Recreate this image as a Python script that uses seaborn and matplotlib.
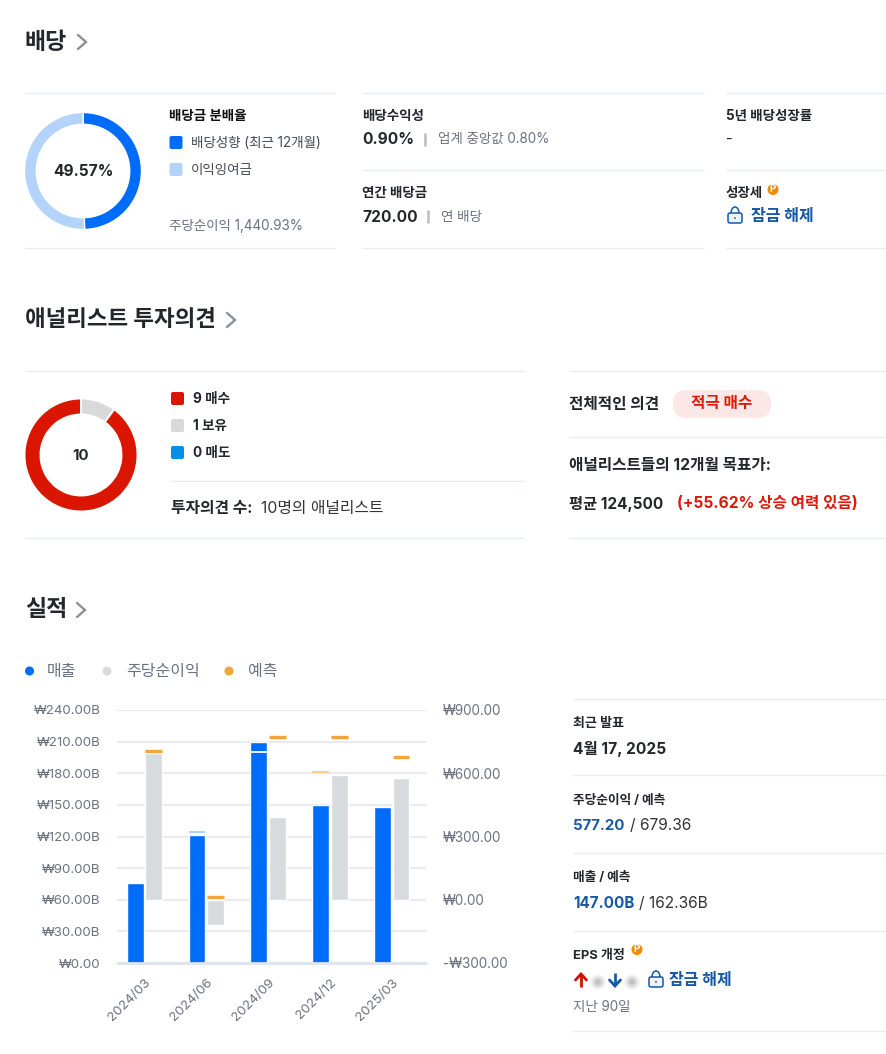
import numpy as np
import pandas as pd
import seaborn as sns
import matplotlib
matplotlib.use("Agg")
import matplotlib.pyplot as plt
from matplotlib.patches import FancyBboxPatch, Circle, Arc

# ---- data ----
periods = ["2024/03", "2024/06", "2024/09", "2024/12", "2025/03"]
revenue = [76.2, 121.7, 209.3, 149.6, 147.6]
revenue_forecast = [np.nan, 124.3, 199.8, 181.5, np.nan]
eps = [694, -118, 394, 592, 577.2]
eps_forecast = [707, 13, 770, 770, 679.36]
left_ticks = [0, 30, 60, 90, 120, 150, 180, 210, 240]
left_labels = ["₩0.00", "₩30.00B", "₩60.00B", "₩90.00B", "₩120.00B", "₩150.00B", "₩180.00B", "₩210.00B", "₩240.00B"]
right_ticks = [-300, 0, 300, 600, 900]
right_labels = ["-₩300.00", "₩0.00", "₩300.00", "₩600.00", "₩900.00"]
series_names = ["매출", "주당순이익"]
payout = [49.57, 50.43]
analyst_counts = [1, 9]

W, H = 886, 1054
BLUE = "#006cfa"; LBLUE = "#b3d3fb"; GREY = "#d8dbde"; ORANGE = "#f2a53a"
RED = "#db1600"; LINK = "#1559a6"; DARK = "#23262b"; MID = "#6b7280"; RULE = "#e6ebf2"

sns.set_theme(style="white")
plt.rcParams["font.family"] = ["Inter", "Noto Sans CJK KR", "DejaVu Sans"]
plt.rcParams["axes.unicode_minus"] = False

fig = plt.figure(figsize=(W / 100, H / 100), dpi=100, facecolor="white")
ov = fig.add_axes([0, 0, 1, 1], zorder=0)
ov.set_xlim(0, W); ov.set_ylim(H, 0); ov.axis("off")


def T(x, y, s, px=13, color=DARK, bold=False, ha="left"):
    ov.text(x, y + 1.8, s, fontsize=px * 0.72, color=color, ha=ha, va="center",
            fontweight="bold" if bold else "normal")


def rule(y, x0, x1):
    ov.plot([x0, x1], [y, y], color=RULE, lw=1, solid_capstyle="butt")


def chevron(x, y):
    ov.plot([x, x + 8, x], [y - 7, y, y + 7], color="#8b9099", lw=1.7, solid_joinstyle="miter")


def square(x, y, c, s=13):
    ov.add_patch(FancyBboxPatch((x + 2, y + 2), s - 4, s - 4, boxstyle="round,pad=2,rounding_size=2",
                                fc=c, ec="none"))


def vsep(x, y0, y1):
    ov.plot([x, x], [y0, y1], color="#bcbfc4", lw=1.9, solid_capstyle="butt")


def lock(x, y):
    ov.add_patch(FancyBboxPatch((x + 2, y - 2), 12, 8, boxstyle="round,pad=1,rounding_size=2",
                                fc="#eef4fb", ec=LINK, lw=1.1))
    ov.add_patch(Arc((x + 8, y - 3), 8, 12, theta1=180, theta2=360, color=LINK, lw=1.1))
    ov.add_patch(Circle((x + 8, y + 2), 0.9, fc=LINK, ec="none"))


def coin(x, y):
    ov.add_patch(Circle((x, y), 5.5, fc="#f58a07", ec="none"))
    ov.text(x, y - 0.3, "P", fontsize=7, color="white", fontweight="bold", ha="center", va="center")


def blob(x, y):
    for r, a in zip([8, 6.5, 5, 3.5, 2], [0.07, 0.1, 0.14, 0.18, 0.2]):
        ov.add_patch(Circle((x, y), r, fc="#8a8a8a", ec="none", alpha=a))


def arrow(x, y_tail, y_head, c):
    d = 6 if y_tail > y_head else -6
    ov.plot([x, x], [y_tail, y_head + 1 * np.sign(d)], color=c, lw=2, solid_capstyle="butt")
    ov.plot([x - 5.5, x, x + 5.5], [y_head + d, y_head, y_head + d], color=c, lw=2, solid_joinstyle="miter")


def donut(cx, cy, r, inner, vals, cols, edge=None):
    a = fig.add_axes([(cx - r) / W, 1 - (cy + r) / H, 2 * r / W, 2 * r / H], zorder=1)
    wp = dict(width=(r - inner) / r)
    if edge:
        wp.update(edgecolor=edge, linewidth=1.4)
    a.pie(vals, colors=cols, startangle=90, counterclock=False, radius=1, wedgeprops=wp)
    a.set_xlim(-1, 1); a.set_ylim(-1, 1)
    return a


# ---- section: dividends ----
T(25, 41, "배당", 23, DARK, True); chevron(78, 42)
for x0, x1 in [(25, 335), (362, 704), (726, 886)]:
    rule(93, x0, x1); rule(248, x0, x1)
for x0, x1 in [(362, 704), (726, 886)]:
    rule(170, x0, x1)
donut(83, 171, 58.5, 46.7, payout, [BLUE, LBLUE])
T(83, 170, "49.57%", 15.4, DARK, True, ha="center")
T(169, 114, "배당금 분배율", 13.5, "#111", True)
square(169.5, 136, BLUE); T(191, 141, "배당성향 (최근 12개월)", 13.5, "#444a55")
square(169.5, 163, LBLUE); T(191, 168, "이익잉여금", 13.5, "#444a55")
T(169, 224, "주당순이익 1,440.93%", 13.5, MID)
T(362, 114, "배당수익성", 13.5, DARK, True)
T(362, 138, "0.90%", 15.5, DARK, True); vsep(425.5, 133, 146); T(438, 137, "업계 중앙값 0.80%", 13.5, MID)
T(362, 191, "연간 배당금", 13.5, DARK, True)
T(362, 216, "720.00", 15.5, DARK, True); vsep(428.5, 210, 223); T(441, 215, "연 배당", 13.5, MID)
T(726, 114, "5년 배당성장률", 13.5, DARK, True)
T(726, 138, "-", 15, DARK)
T(726, 191, "성장세", 13.5, DARK, True); coin(773, 189.5)
lock(727, 216); T(751, 215, "잠금 해제", 16, LINK, True)

# ---- section: analysts ----
T(25, 318, "애널리스트 투자의견", 22.4, DARK, True); chevron(227, 320)
rule(371, 25, 524); rule(538, 25, 524); rule(480.5, 171, 524)
for y in (371, 437, 538):
    rule(y, 569, 886)
donut(81, 455, 56.5, 40.5, analyst_counts, ["#d9d9d9", RED], edge="white")
T(81, 454, "10", 15, DARK, True, ha="center")
square(171, 392, RED); T(193, 397, "9 매수", 13.6, DARK, True)
square(171, 419, "#d9d9d9"); T(193, 424, "1 보유", 13.6, DARK, True)
square(171, 446, "#068fe6"); T(193, 451, "0 매도", 13.6, DARK, True)
T(171, 507, "투자의견 수:", 15.8, DARK, True); T(261, 507, "10명의 애널리스트", 15.8, "#333")
T(569, 403, "전체적인 의견", 15.7, DARK, True)
ov.add_patch(FancyBboxPatch((687, 404), 70, 0.01, boxstyle="round,pad=14,rounding_size=14", fc="#fbe7e6", ec="none"))
T(722, 402, "적극 매수", 15.7, "#dd1a0a", True, ha="center")
T(569, 464, "애널리스트들의 12개월 목표가:", 15.7, DARK, True)
T(569, 502, "평균 124,500", 15.3, DARK, True)
T(677, 502, "(+55.62% 상승 여력 있음)", 15.6, "#dd1a0a", True)

# ---- section: earnings ----
T(25, 608, "실적", 23, DARK, True); chevron(77, 610)
for x, c, tx, s in [(29.5, BLUE, 47, series_names[0]), (107, GREY, 126, series_names[1]), (229, ORANGE, 248, "예측")]:
    ov.add_patch(Circle((x, 671), 4.5, fc=c, ec="none"))
    T(tx, 669.5, s, 16, MID)

for y in (698.5, 775, 853, 930.5, 1031):
    rule(y, 573, 886)
T(573, 722, "최근 발표", 13, DARK, True)
T(573, 747, "4월 17, 2025", 15.5, DARK, True)
T(573, 799, "주당순이익 / 예측", 12.7, DARK, True)
T(573, 824, "577.20", 15, LINK, True); T(630, 824, "/ 679.36", 15.5, "#333")
T(573, 876, "매출 / 예측", 12.7, DARK, True)
T(573, 902, "147.00B", 15.2, LINK, True); T(639, 902, "/ 162.36B", 15.5, "#333")
T(573, 954, "EPS 개정", 13, DARK, True); coin(637, 949.5)
arrow(581, 987, 974, "#d01202")
blob(598, 982)
arrow(615, 973, 986, LINK)
blob(632, 982)
lock(648, 980); T(669, 979, "잠금 해제", 16, LINK, True)
T(573, 1005, "지난 90일", 13.5, MID)

# ---- chart ----
x0, x1, y0, y1 = 117, 426, 710, 963
XLIM = (-0.445, 4.555)
ax = fig.add_axes([x0 / W, 1 - y1 / H, (x1 - x0) / W, (y1 - y0) / H], zorder=2)
ax.patch.set_alpha(0)
palette = {series_names[0]: BLUE, series_names[1]: GREY}
nan5 = [np.nan] * 5
df_rev = pd.DataFrame({"period": periods * 2, "value": revenue + nan5,
                       "series": [series_names[0]] * 5 + [series_names[1]] * 5})
df_eps = pd.DataFrame({"period": periods * 2, "value": nan5 + eps,
                       "series": [series_names[0]] * 5 + [series_names[1]] * 5})
bar_kw = dict(x="period", y="value", hue="series", hue_order=series_names, palette=palette,
              order=periods, width=0.6, gap=0.1, legend=False, edgecolor="white", linewidth=1,
              saturation=1, errorbar=None)
sns.barplot(data=df_rev, ax=ax, **bar_kw)
ax.set_axisbelow(True)
ax.yaxis.grid(True, color="#e9ebf0", lw=1.6)
ax.xaxis.grid(False)
ax.set_ylim(0, 240)
ax.set_yticks(left_ticks, left_labels)
ax.set_xlim(*XLIM)
ax.tick_params(axis="y", length=0, pad=12, labelsize=9.6, labelcolor=MID)
ax.set_xticks(range(5), periods, rotation=45, ha="right", rotation_mode="anchor")
ax.tick_params(axis="x", length=0, pad=10, labelsize=9.6, labelcolor=MID)
ax.set_xlabel(""); ax.set_ylabel("")
sns.despine(ax=ax, left=True, right=True, top=True, bottom=True)
ax.axhline(0, color="#dde3f0", lw=2, clip_on=False, zorder=3)

ax2 = ax.twinx()
ax2.set_zorder(3); ax2.patch.set_alpha(0)
sns.barplot(data=df_eps, ax=ax2, **bar_kw)
ax2.set_ylim(-300, 900)
ax2.set_yticks(right_ticks, right_labels)
ax2.set_xlim(*XLIM)
ax2.yaxis.set_label_position("right"); ax2.yaxis.tick_right()
ax2.tick_params(axis="y", length=0, pad=12, labelsize=9.7, labelcolor=MID)
ax2.set_xlabel(""); ax2.set_ylabel("")
ax2.grid(False)
sns.despine(ax=ax2, left=True, right=True, top=True, bottom=True)

# forecast markers sit over their own series' bar slot
off, hw = 0.15, 0.135
xs = np.arange(5)
ax2.hlines(eps_forecast, xs + off - hw, xs + off + hw, color="white", lw=4.5, zorder=4)
ax2.hlines(eps_forecast, xs + off - hw, xs + off + hw, color=ORANGE, lw=2.4, zorder=5)
rf_cols = ["none", "#a9cdfb", "white", "#fbc98a", "none"]
for i, (v, c) in enumerate(zip(revenue_forecast, rf_cols)):
    if not np.isnan(v):
        ax.hlines(v, i - off - hw, i - off + hw, color=c, lw=1.3, zorder=5)

fig.savefig("out.png", dpi=100, facecolor="white")
